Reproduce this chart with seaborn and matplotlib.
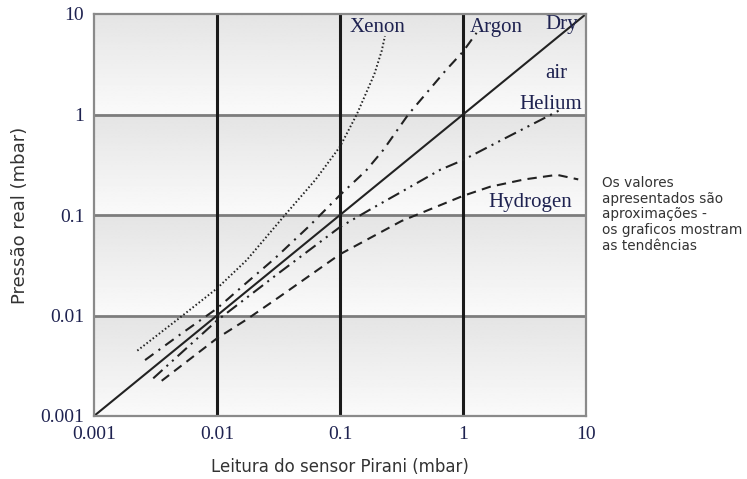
import numpy as np
import matplotlib
matplotlib.use("Agg")
import matplotlib.pyplot as plt
import seaborn as sns

# ---- data (sensor reading -> real pressure, mbar) ----
dry_x = [0.001, 10.0]
dry_y = [0.001, 10.0]

xenon_x = [0.00225, 0.00501, 0.01, 0.0174, 0.0357, 0.0631, 0.1, 0.1368, 0.190, 0.218, 0.232]
xenon_y = [0.00447, 0.00955, 0.0186, 0.0355, 0.1, 0.224, 0.479, 1.0, 2.51, 4.27, 6.03]

argon_x = [0.0026, 0.00501, 0.01, 0.0174, 0.0296, 0.0562, 0.1, 0.1626, 0.225, 0.359, 0.728, 1.0, 1.29]
argon_y = [0.0036, 0.00646, 0.01175, 0.0212, 0.0371, 0.0776, 0.158, 0.276, 0.444, 1.0, 2.77, 4.22, 6.5]

helium_x = [0.00303, 0.01, 0.0316, 0.1, 0.185, 0.316, 0.650, 1.0, 2.06, 3.16, 6.15]
helium_y = [0.00237, 0.00891, 0.0263, 0.0759, 0.1175, 0.170, 0.281, 0.352, 0.557, 0.729, 1.109]

hydrogen_x = [0.00355, 0.01, 0.0174, 0.0316, 0.1, 0.316, 1.0, 1.66, 3.16, 5.81, 8.65]
hydrogen_y = [0.00224, 0.00593, 0.00912, 0.0151, 0.0407, 0.0871, 0.155, 0.191, 0.226, 0.251, 0.226]

decades = [0.001, 0.01, 0.1, 1, 10]
tick_labels = ["0.001", "0.01", "0.1", "1", "10"]

gas_labels = ["Xenon", "Argon", "Dry", "air", "Helium", "Hydrogen"]
gas_label_x = [0.12, 1.14, 4.64, 4.70, 2.85, 1.60]
gas_label_y = [7.26, 7.26, 7.94, 2.53, 1.27, 0.1346]

note = "Os valores\napresentados são\naproximações -\nos graficos mostram\nas tendências"

# ---- figure ----
sns.set_style("white")
plt.rcParams["font.family"] = ["DejaVu Sans"]

fig = plt.figure(figsize=(7.47, 4.79), dpi=100)
ax = fig.add_axes([94 / 747, 1 - 416 / 479, 492 / 747, 402 / 479])
ax.set_xscale("log")
ax.set_yscale("log")
ax.set_xlim(decades[0], decades[-1])
ax.set_ylim(decades[0], decades[-1])
ax.set_autoscale_on(False)

# gradient background for each decade band
grad = np.linspace(0.895, 0.98, 64)[:, None]
nb = len(decades) - 1
for i in range(nb):
    ax.imshow(grad, extent=(0, 1, i / nb, (i + 1) / nb), transform=ax.transAxes,
              aspect="auto", cmap="gray", vmin=0, vmax=1, zorder=0,
              interpolation="bilinear")

for d in decades[1:-1]:
    ax.axhline(d, color="#7d7d7d", lw=2.0, zorder=1)
for d in decades[1:-1]:
    ax.axvline(d, color="#1a1a1a", lw=2.2, zorder=2)

lc = "#222222"
sns.lineplot(x=dry_x, y=dry_y, ax=ax, color=lc, lw=1.5, sort=False, estimator=None, zorder=3)
sns.lineplot(x=xenon_x, y=xenon_y, ax=ax, color=lc, lw=1.4, sort=False, estimator=None,
             linestyle=(0, (0.8, 1.2)), zorder=3)
sns.lineplot(x=argon_x, y=argon_y, ax=ax, color=lc, lw=1.5, sort=False, estimator=None,
             linestyle=(0, (5, 3, 1, 3)), zorder=3)
sns.lineplot(x=helium_x, y=helium_y, ax=ax, color=lc, lw=1.5, sort=False, estimator=None,
             linestyle=(0, (6, 2.6, 1, 2.6, 1, 2.6)), zorder=3)
sns.lineplot(x=hydrogen_x, y=hydrogen_y, ax=ax, color=lc, lw=1.5, sort=False, estimator=None,
             linestyle=(0, (4.5, 3)), zorder=3)

for t, gx, gy in zip(gas_labels, gas_label_x, gas_label_y):
    ax.text(gx, gy, t, ha="left", va="center", fontsize=15, color="#1e2250",
            family=["Liberation Serif", "DejaVu Serif"], zorder=4)

ax.set_xticks(decades)
ax.set_xticklabels(tick_labels)
ax.set_yticks(decades)
ax.set_yticklabels(tick_labels)
ax.minorticks_off()
ax.tick_params(length=0, pad=7, labelsize=14, labelcolor="#1e2250")
for lab in ax.get_xticklabels() + ax.get_yticklabels():
    lab.set_family(["Liberation Serif", "DejaVu Serif"])

for s in ax.spines.values():
    s.set_color("#8a8a8a")
    s.set_linewidth(1.6)
    s.set_visible(True)
    s.set_zorder(5)

ax.set_xlabel("Leitura do sensor Pirani (mbar)", fontsize=12, color="#333333", labelpad=11)
ax.set_ylabel("Pressão real (mbar)", fontsize=13, color="#333333", labelpad=8)

fig.text(602 / 747, 1 - 176 / 479, note, ha="left", va="top", fontsize=9.8,
         color="#333333", linespacing=1.15)

fig.savefig("out.png", dpi=100)
